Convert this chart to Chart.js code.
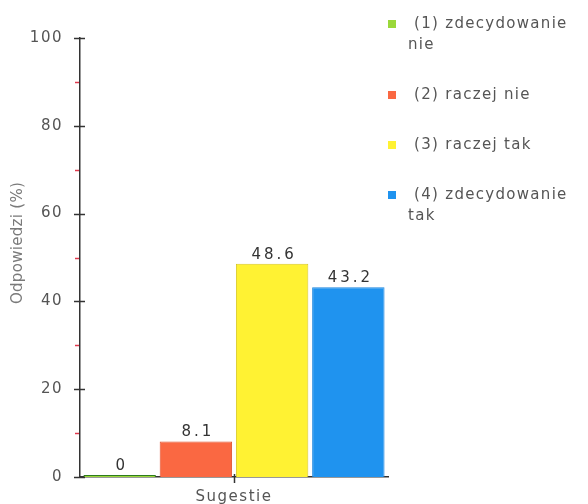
<!DOCTYPE html>
<html>
<head>
<meta charset="utf-8">
<script src="https://cdn.jsdelivr.net/npm/chart.js@4/dist/chart.umd.min.js"></script>
<style>
  body { margin: 0; background: #fff; }
  #wrap { position: relative; width: 588px; height: 504px; }
  #legend { position: absolute; left: 388px; top: 13px; width: 200px;
            font-family: "DejaVu Sans", sans-serif; font-size: 15px; color: #555;
            letter-spacing: 1.3px; }
  .item { position: relative; padding-left: 20px; text-indent: 6px; line-height: 21px; margin-bottom: 29px; }
  .item span.sw { position: absolute; left: 0; top: 7px; width: 8px; height: 8px; text-indent: 0; }
</style>
</head>
<body>
<div id="wrap">
  <canvas id="chart" width="588" height="504"></canvas>
  <div id="legend"></div>
</div>
<script>
const categories = ['Sugestie'];
const seriesNames = ['(1) zdecydowanie nie', '(2) raczej nie', '(3) raczej tak', '(4) zdecydowanie tak'];
const seriesValues = [0, 8.1, 48.6, 43.2];
const seriesColors = ['#9ad83a', '#fa6842', '#fff233', '#1f93ef'];
const seriesBorders = ['#2e7a1e', '#e0502e', '#d9c825', '#1b86e0'];
const yTicks = [0, 20, 40, 60, 80, 100];
const yMinorTicks = [10, 30, 50, 70, 90];
const yTitle = 'Odpowiedzi (%)';

const legend = document.getElementById('legend');
seriesNames.forEach((name, i) => {
  const div = document.createElement('div');
  div.className = 'item';
  div.innerHTML = '<span class="sw" style="background:' + seriesColors[i] + '"></span>' + name;
  legend.appendChild(div);
});

// the original renderer spaces its letters widely
const spacingPlugin = {
  id: 'spacing',
  beforeDraw(chart) { chart.ctx.letterSpacing = '1.5px'; },
  afterDatasetsDraw(chart) { chart.ctx.letterSpacing = '2px'; } // x axis is drawn after this (z: 1)
};

const tickPlugin = {
  id: 'tickPlugin',
  afterDraw(chart) {
    const ctx = chart.ctx;
    const y = chart.scales.y;
    const x = chart.scales.x;
    const ax = chart.chartArea.left;
    ctx.save();
    ctx.lineWidth = 1.5;
    ctx.strokeStyle = '#333';
    yTicks.forEach(v => {
      const py = Math.round(y.getPixelForValue(v)) + 0.5;
      ctx.beginPath();
      ctx.moveTo(ax - 6, py);
      ctx.lineTo(ax + 5, py);
      ctx.stroke();
    });
    categories.forEach((c, i) => {
      const px = Math.round(x.getPixelForValue(i)) + 0.5;
      const by = chart.chartArea.bottom;
      ctx.beginPath();
      ctx.moveTo(px, by - 3);
      ctx.lineTo(px, by + 6);
      ctx.stroke();
    });
    ctx.strokeStyle = '#e03a4e';
    ctx.lineWidth = 1.5;
    yMinorTicks.forEach(v => {
      const py = Math.round(y.getPixelForValue(v)) + 0.5;
      ctx.beginPath();
      ctx.moveTo(ax - 5, py);
      ctx.lineTo(ax - 1, py);
      ctx.stroke();
    });
    // value labels
    ctx.fillStyle = '#333';
    ctx.font = '15px "DejaVu Sans"';
    ctx.letterSpacing = '3px';
    ctx.textAlign = 'center';
    ctx.textBaseline = 'alphabetic';
    chart.data.datasets.forEach((ds, i) => {
      const bar = chart.getDatasetMeta(i).data[0];
      ctx.fillText(String(ds.data[0]), bar.x + 2, bar.y - 5);
    });
    // axis title
    ctx.fillStyle = '#7a7a7a';
    ctx.font = '15px "DejaVu Sans"';
    ctx.letterSpacing = '0.3px';
    ctx.textBaseline = 'middle';
    ctx.translate(18, 243);
    ctx.rotate(-Math.PI / 2);
    ctx.fillText(yTitle, 0, 0);
    ctx.restore();
  }
};

new Chart(document.getElementById('chart'), {
  type: 'bar',
  data: {
    labels: categories,
    datasets: seriesNames.map((name, i) => ({
      label: name,
      data: [seriesValues[i]],
      backgroundColor: seriesColors[i],
      borderColor: seriesBorders[i],
      borderWidth: 1,
      minBarLength: 2,
      barPercentage: 0.95,
      categoryPercentage: 0.99
    }))
  },
  options: {
    responsive: false,
    animation: false,
    layout: { padding: { top: 38, right: 200, left: 0, bottom: 0 } },
    plugins: { legend: { display: false }, tooltip: { enabled: false } },
    scales: {
      x: {
        z: 1,
        grid: { display: false },
        border: { display: true, color: '#333', width: 1.5 },
        ticks: { color: '#555', font: { family: 'DejaVu Sans', size: 15 }, padding: 3 },
        afterFit(s) { s.height = 27; }
      },
      y: {
        min: 0,
        max: 100,
        ticks: { stepSize: 20, color: '#555', font: { family: 'DejaVu Sans', size: 15 }, padding: 9 },
        grid: { display: false },
        border: { display: true, color: '#333', width: 1.5 },
        afterFit(s) { s.width = 80; }
      }
    }
  },
  plugins: [spacingPlugin, tickPlugin]
});
</script>
</body>
</html>
